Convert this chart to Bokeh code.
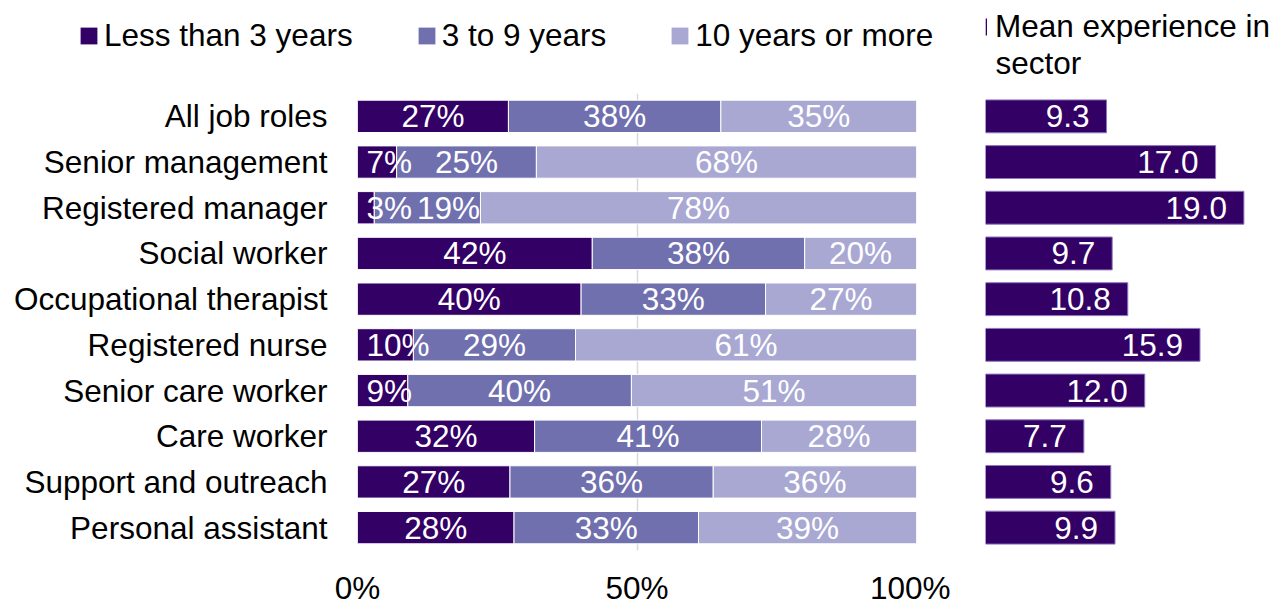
from bokeh.plotting import figure
from bokeh.models import (ColumnDataSource, FactorRange, Range1d, FixedTicker,
                          Legend, LegendItem, Label)
from bokeh.layouts import row, column
from bokeh.embed import file_html
from bokeh.resources import INLINE
from bokeh.core.properties import value

# ---------------- data ----------------
roles = ["All job roles", "Senior management", "Registered manager",
         "Social worker", "Occupational therapist", "Registered nurse",
         "Senior care worker", "Care worker", "Support and outreach",
         "Personal assistant"]
less_than_3 = [27, 7, 3, 42, 40, 10, 9, 32, 27, 28]
three_to_9 = [38, 25, 19, 38, 33, 29, 40, 41, 36, 33]
ten_or_more = [35, 68, 78, 20, 27, 61, 51, 28, 36, 39]
mean_years = [9.3, 17.0, 19.0, 9.7, 10.8, 15.9, 12.0, 7.7, 9.6, 9.9]
series_names = ["Less than 3 years", "3 to 9 years", "10 years or more"]
mean_title_lines = ["Mean experience in", "sector"]
x_ticks = [0, 50, 100]
x_tick_labels = ["0%", "50%", "100%"]

# ---------------- style ----------------
colors = ["#330066", "#7070AF", "#A9A8D3"]
FONT = "Liberation Sans"
FS_PX = 31.5
FS = f"{FS_PX}px"
GRID = "#D9D9D9"

factors = list(reversed(roles))

# ---------------- legend strip (top) ----------------
pl = figure(width=1274, height=92, x_range=Range1d(0, 1), y_range=Range1d(0, 1),
            x_axis_location=None, y_axis_location=None,
            output_backend="svg", toolbar_location=None,
            min_border_left=0, min_border_right=0,
            min_border_top=0, min_border_bottom=0)
pl.outline_line_color = None
pl.grid.grid_line_color = None
# zero-size proxies: only used to give the legends their swatches
leg_r = [pl.hbar(y=[0.5], left=[0], right=[0], height=0, fill_color=c, line_color=None)
         for c in colors]
leg_m = pl.hbar(y=[0.5], left=[0], right=[0], height=0, fill_color=colors[0],
                line_color=None)

leg1 = Legend(items=[LegendItem(label=n, renderers=[r]) for n, r in zip(series_names, leg_r)],
              orientation="horizontal", location=(78, 38),
              glyph_width=21, glyph_height=21, label_standoff=5, spacing=63,
              padding=0, margin=0, border_line_color=None,
              background_fill_alpha=0,
              label_text_font=FONT, label_text_font_size=FS,
              label_text_color="black")
pl.add_layout(leg1, "center")

leg2 = Legend(items=[LegendItem(label=mean_title_lines[0], renderers=[leg_m])],
              location=(985, 47),
              glyph_width=2, glyph_height=21, label_standoff=8,
              padding=0, margin=0, border_line_color=None,
              background_fill_alpha=0,
              label_text_font=FONT, label_text_font_size=FS,
              label_text_color="black")
pl.add_layout(leg2, "center")
pl.add_layout(Label(x=995, y=30, x_units="screen", y_units="screen",
                    text=mean_title_lines[1], text_font=FONT, text_font_size=FS,
                    text_color="black", text_baseline="alphabetic"))

# ---------------- left panel ----------------
p1 = figure(width=950, height=516,
            y_range=FactorRange(factors=factors, range_padding=0),
            x_range=Range1d(0, 100),
            output_backend="svg", toolbar_location=None,
            min_border_left=357, min_border_right=34,
            min_border_top=0, min_border_bottom=49)
p1.outline_line_color = None

series = [less_than_3, three_to_9, ten_or_more]
totals = [a + b + c for a, b, c in zip(*series)]
starts = [0.0] * len(roles)
frame_px = 559.0  # frame width in px, used for label collision estimate
seg_bounds = []
for k, vals in enumerate(series):
    lefts = list(starts)
    rights = [s + v / t * 100 for s, v, t in zip(starts, vals, totals)]
    src = ColumnDataSource(dict(y=roles, left=lefts, right=rights))
    p1.hbar(y="y", left="left", right="right", height=0.707, source=src,
            fill_color=colors[k], line_color="white", line_width=1)
    seg_bounds.append((lefts, rights))
    starts = rights


def text_width_units(s):
    em = sum(0.889 if ch == "%" else 0.556 for ch in s)
    return em * FS_PX / frame_px * 100


lab_x, lab_y, lab_t = [], [], []
for i, role in enumerate(roles):
    prev_right = 0.0
    for k in range(3):
        lft, rgt = seg_bounds[k][0][i], seg_bounds[k][1][i]
        txt = f"{series[k][i]}%"
        half = text_width_units(txt) / 2
        cx = (lft + rgt) / 2
        if k == 0:
            x = max(cx, half + 1.6)
        else:
            x = max(cx, prev_right + 0.9 + half)
        prev_right = x + half
        lab_x.append(x)
        lab_y.append(role)
        lab_t.append(txt)

p1.text(x="x", y="y", text="t",
        source=ColumnDataSource(dict(x=lab_x, y=lab_y, t=lab_t)),
        text_align="center", text_baseline="middle", text_color="white",
        text_font=value(FONT), text_font_size=FS)

p1.xaxis.ticker = FixedTicker(ticks=x_ticks)
p1.xaxis.major_label_overrides = {t: l for t, l in zip(x_ticks, x_tick_labels)}
p1.xaxis.axis_line_color = None
p1.xaxis.major_tick_line_color = None
p1.xaxis.minor_tick_line_color = None
p1.xaxis.major_label_standoff = 13
p1.xaxis.major_label_text_font = FONT
p1.xaxis.major_label_text_font_size = FS
p1.xaxis.major_label_text_color = "black"

p1.yaxis.axis_line_color = None
p1.yaxis.major_tick_line_color = None
p1.yaxis.minor_tick_line_color = None
p1.yaxis.major_label_standoff = 24
p1.yaxis.major_label_text_font = FONT
p1.yaxis.major_label_text_font_size = FS
p1.yaxis.major_label_text_color = "black"

p1.ygrid.grid_line_color = None
p1.xgrid.grid_line_color = GRID
p1.xgrid.grid_line_width = 1.5
p1.xgrid.ticker = FixedTicker(ticks=x_ticks)

# ---------------- right panel ----------------
p2 = figure(width=324, height=516,
            y_range=FactorRange(factors=factors, range_padding=0),
            x_range=Range1d(0.755, 21.16),
            x_axis_location=None, y_axis_location=None,
            output_backend="svg", toolbar_location=None,
            min_border_left=35, min_border_right=0,
            min_border_top=1, min_border_bottom=41)
p2.outline_line_color = None
p2.grid.grid_line_color = None

p2.hbar(y=roles, left=0, right=mean_years, height=0.72,
        fill_color=colors[0], line_color="#8E79C0", line_width=1)
p2.text(x=mean_years, y=roles, text=[f"{v:.1f}" for v in mean_years],
        x_offset=-17, text_align="right", text_baseline="middle",
        text_color="white", text_font=value(FONT), text_font_size=FS)

layout = column(pl, row(p1, p2))
open("out.html", "w").write(file_html(layout, INLINE))
